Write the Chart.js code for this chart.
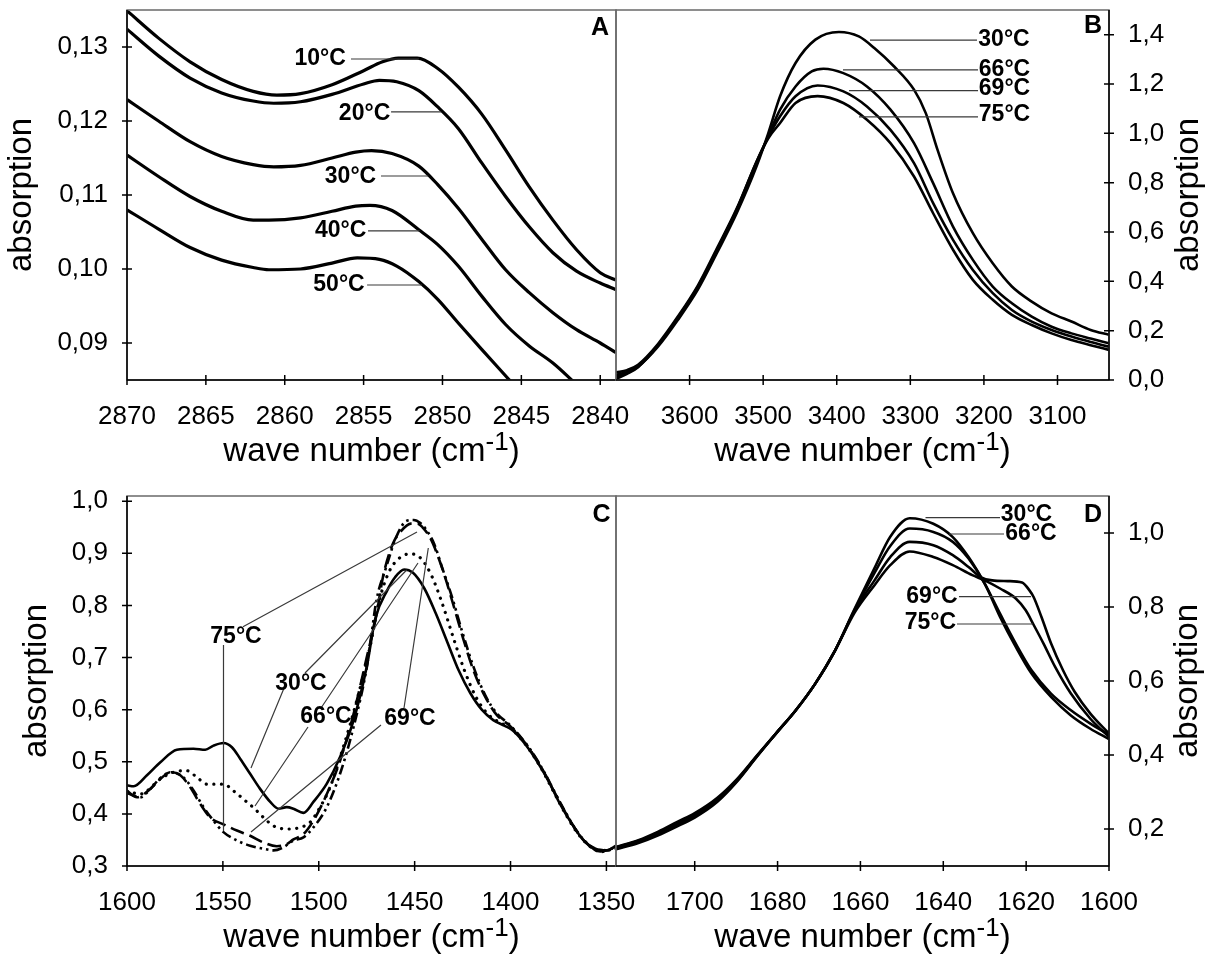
<!DOCTYPE html>
<html><head><meta charset="utf-8">
<script src="https://cdn.jsdelivr.net/npm/chart.js@4.4.1/dist/chart.umd.min.js"></script>
<style>
html,body{margin:0;padding:0;background:#fff;}
#wrap{position:relative;width:1215px;height:955px;overflow:hidden;background:#fff;}
canvas{position:absolute;left:0;top:0;width:1215px;height:955px;}
</style></head><body>
<div id="wrap">
<canvas id="cA" width="1215" height="955"></canvas>
<canvas id="cB" width="1215" height="955"></canvas>
<canvas id="cC" width="1215" height="955"></canvas>
<canvas id="cD" width="1215" height="955"></canvas>
</div>
<script>
// ---------------- Panel A (2870-2839 cm-1) ----------------
const aTickX = [2870, 2865, 2860, 2855, 2850, 2845, 2840];
const aTickY = [0.09, 0.10, 0.11, 0.12, 0.13];
const aX10 = [2870, 2868, 2866, 2864, 2862, 2860.5, 2859, 2857, 2855, 2853.8, 2852.8, 2851.6, 2850.3, 2849, 2847.5, 2846, 2844.5, 2843, 2841.5, 2840, 2839];
const aY10 = [0.1349, 0.1312, 0.1280, 0.1256, 0.1240, 0.1235, 0.1237, 0.1249, 0.1268, 0.1280, 0.1285, 0.1285, 0.1271, 0.1246, 0.1209, 0.1161, 0.1111, 0.1066, 0.1026, 0.0995, 0.0985];
const aX20 = [2870, 2868, 2866, 2864, 2862, 2860.7, 2859, 2857, 2855, 2854, 2852.9, 2851.5, 2850.3, 2849, 2847.5, 2846, 2844.5, 2843, 2841.5, 2840, 2839];
const aY20 = [0.1324, 0.1288, 0.1258, 0.1238, 0.1227, 0.1224, 0.1226, 0.1236, 0.1250, 0.1255, 0.1253, 0.1241, 0.1219, 0.1190, 0.1143, 0.1098, 0.1057, 0.1022, 0.0997, 0.0981, 0.0972];
const aX30 = [2870, 2868, 2866, 2864, 2862, 2860.7, 2859, 2857, 2855.5, 2854.5, 2853.2, 2851.5, 2850.3, 2849, 2847.5, 2846, 2844.5, 2843, 2841.5, 2840, 2839];
const aY30 = [0.1229, 0.1200, 0.1172, 0.1152, 0.1141, 0.1138, 0.1140, 0.1150, 0.1158, 0.1160, 0.1156, 0.1139, 0.1114, 0.1082, 0.1040, 0.0999, 0.0968, 0.0941, 0.0918, 0.0900, 0.0887];
const aX40 = [2870, 2868, 2866, 2864, 2862, 2861, 2859, 2857, 2855.5, 2854.6, 2853.2, 2851.5, 2850.3, 2849, 2847.5, 2846, 2844.5, 2843, 2841.5, 2840.5];
const aY40 = [0.1154, 0.1125, 0.1098, 0.1078, 0.1066, 0.1066, 0.1069, 0.1078, 0.1085, 0.1086, 0.1079, 0.1053, 0.1033, 0.1004, 0.0963, 0.0925, 0.0896, 0.0873, 0.0844, 0.0825];
const aX50 = [2870, 2868, 2866, 2864, 2862, 2861, 2859, 2857, 2855.4, 2854, 2852.9, 2851.5, 2850.3, 2849, 2847.5, 2845.8, 2845];
const aY50 = [0.1080, 0.1054, 0.1029, 0.1012, 0.1002, 0.0999, 0.1000, 0.1008, 0.1015, 0.1013, 0.1004, 0.0983, 0.0959, 0.0927, 0.0891, 0.0851, 0.0832];

// ---------------- Panel B (3700-3030 cm-1) ----------------
const bTickX = [3600, 3500, 3400, 3300, 3200, 3100];
const bTickY = [0.0, 0.2, 0.4, 0.6, 0.8, 1.0, 1.2, 1.4];
const bX30 = [3700, 3685, 3670, 3643, 3616, 3589, 3563, 3536, 3509, 3493, 3477, 3456, 3429, 3397, 3370, 3349, 3322, 3295, 3279, 3263, 3242, 3215, 3188, 3162, 3135, 3108, 3081, 3055, 3030];
const bY30 = [0.015, 0.03, 0.054, 0.135, 0.243, 0.365, 0.514, 0.676, 0.866, 1.001, 1.15, 1.285, 1.38, 1.411, 1.393, 1.346, 1.271, 1.177, 1.082, 0.933, 0.757, 0.595, 0.473, 0.379, 0.318, 0.27, 0.237, 0.203, 0.183];
const bX66 = [3700, 3685, 3670, 3643, 3616, 3589, 3563, 3536, 3509, 3493, 3477, 3456, 3434, 3418, 3391, 3359, 3327, 3295, 3269, 3242, 3215, 3188, 3162, 3135, 3108, 3081, 3055, 3030];
const bY66 = [0.02, 0.033, 0.058, 0.142, 0.252, 0.377, 0.528, 0.69, 0.88, 0.99, 1.096, 1.19, 1.251, 1.262, 1.244, 1.19, 1.096, 0.96, 0.798, 0.622, 0.487, 0.379, 0.311, 0.257, 0.216, 0.189, 0.168, 0.149];
const bX69 = [3700, 3685, 3670, 3643, 3616, 3589, 3563, 3536, 3509, 3493, 3477, 3456, 3426, 3391, 3359, 3327, 3295, 3269, 3242, 3215, 3188, 3162, 3135, 3108, 3081, 3055, 3030];
const bY69 = [0.03, 0.04, 0.062, 0.146, 0.257, 0.382, 0.533, 0.695, 0.885, 0.985, 1.069, 1.15, 1.194, 1.17, 1.109, 1.014, 0.879, 0.717, 0.568, 0.446, 0.352, 0.284, 0.237, 0.203, 0.176, 0.154, 0.135];
const bX75 = [3700, 3685, 3670, 3643, 3616, 3589, 3563, 3536, 3509, 3493, 3477, 3456, 3426, 3391, 3359, 3327, 3295, 3269, 3242, 3215, 3188, 3162, 3135, 3108, 3081, 3055, 3030];
const bY75 = [0.005, 0.025, 0.052, 0.14, 0.25, 0.375, 0.525, 0.69, 0.885, 0.98, 1.042, 1.123, 1.151, 1.123, 1.055, 0.96, 0.825, 0.676, 0.528, 0.406, 0.325, 0.264, 0.223, 0.189, 0.162, 0.141, 0.122];

// ---------------- Panel C (1600-1345 cm-1) ----------------
const cTickX = [1600, 1550, 1500, 1450, 1400, 1350];
const cTickY = [0.3, 0.4, 0.5, 0.6, 0.7, 0.8, 0.9, 1.0];
const cX30 = [1600, 1596.5, 1589.6, 1582.6, 1574, 1565.3, 1559.2, 1554.9, 1549.7, 1545.3, 1541, 1535.8, 1530.6, 1525.3, 1521, 1516.7, 1513.2, 1508, 1502.8, 1495.8, 1488.9, 1481.9, 1475, 1470.5, 1464.3, 1460.2, 1455.5, 1451, 1445, 1439, 1433, 1427, 1421, 1415, 1409, 1403, 1398.8, 1392.6, 1386.5, 1380.3, 1374.2, 1368, 1361.9, 1355.7, 1349.6, 1345];
const cY30 = [0.455, 0.453, 0.474, 0.499, 0.523, 0.525, 0.523, 0.531, 0.536, 0.528, 0.506, 0.477, 0.448, 0.423, 0.410, 0.413, 0.410, 0.402, 0.423, 0.458, 0.509, 0.579, 0.682, 0.775, 0.829, 0.854, 0.869, 0.863, 0.833, 0.785, 0.730, 0.675, 0.632, 0.600, 0.580, 0.569, 0.560, 0.535, 0.503, 0.464, 0.419, 0.381, 0.349, 0.333, 0.330, 0.339];
const cX66 = [1600, 1593, 1589.6, 1582.6, 1575.7, 1568.8, 1563.5, 1558.3, 1549.7, 1544.4, 1539.2, 1533.2, 1528.8, 1523.6, 1516.7, 1509.7, 1504.5, 1499.3, 1494.1, 1487.2, 1480.2, 1473.3, 1468.4, 1463.3, 1458.2, 1452.5, 1447.5, 1441.8, 1436, 1430, 1424, 1418, 1412, 1406, 1400.5, 1395, 1389, 1383, 1377, 1371, 1365, 1359, 1353, 1345];
const cY66 = [0.444, 0.438, 0.444, 0.467, 0.480, 0.483, 0.470, 0.457, 0.457, 0.444, 0.428, 0.409, 0.393, 0.377, 0.371, 0.374, 0.384, 0.413, 0.451, 0.528, 0.617, 0.720, 0.810, 0.865, 0.890, 0.899, 0.893, 0.862, 0.808, 0.740, 0.675, 0.624, 0.592, 0.576, 0.566, 0.546, 0.517, 0.481, 0.439, 0.398, 0.363, 0.339, 0.329, 0.336];
const cX69 = [1600, 1593, 1587.8, 1582.6, 1576.6, 1570.5, 1565.3, 1560.1, 1554.9, 1549.7, 1542.7, 1535.8, 1528.8, 1523.6, 1518.4, 1513.2, 1508, 1502.8, 1495.8, 1488.9, 1481.9, 1475, 1473.4, 1469.9, 1464.8, 1459.5, 1454.3, 1450.5, 1447, 1443.9, 1439.8, 1435.7, 1430.5, 1425.4, 1419.3, 1413.1, 1407, 1401, 1395, 1389, 1383, 1377, 1371, 1365, 1359, 1353, 1345];
const cY69 = [0.440, 0.432, 0.448, 0.469, 0.480, 0.470, 0.445, 0.413, 0.387, 0.365, 0.349, 0.339, 0.333, 0.330, 0.336, 0.349, 0.355, 0.374, 0.413, 0.477, 0.566, 0.680, 0.720, 0.810, 0.874, 0.932, 0.962, 0.964, 0.958, 0.945, 0.918, 0.873, 0.816, 0.752, 0.682, 0.627, 0.592, 0.573, 0.549, 0.520, 0.484, 0.442, 0.401, 0.365, 0.340, 0.327, 0.334];
const cX75 = [1600, 1594.8, 1587.8, 1582.6, 1577.4, 1572.2, 1567, 1561.8, 1556.6, 1549.7, 1542.7, 1535.8, 1528.8, 1521.9, 1516.7, 1513.2, 1508, 1502.8, 1495.8, 1488.9, 1481.9, 1475, 1469.8, 1466.5, 1461.3, 1457, 1452, 1448.5, 1445.9, 1441.8, 1437.7, 1433.6, 1429.5, 1424.4, 1419.3, 1413.1, 1407, 1401, 1395, 1389, 1383, 1377, 1371, 1365, 1359, 1353, 1345];
const cY75 = [0.444, 0.432, 0.448, 0.467, 0.480, 0.474, 0.451, 0.419, 0.393, 0.380, 0.368, 0.358, 0.345, 0.338, 0.342, 0.351, 0.361, 0.387, 0.438, 0.502, 0.591, 0.700, 0.784, 0.855, 0.919, 0.943, 0.957, 0.957, 0.950, 0.929, 0.893, 0.848, 0.797, 0.733, 0.675, 0.624, 0.589, 0.571, 0.548, 0.519, 0.483, 0.441, 0.400, 0.364, 0.339, 0.328, 0.335];

// ---------------- Panel D (1719-1600 cm-1) ----------------
const dTickX = [1700, 1680, 1660, 1640, 1620, 1600];
const dTickY = [0.2, 0.4, 0.6, 0.8, 1.0];
const dX30 = [1719, 1713.6, 1708.8, 1704.1, 1700, 1694.6, 1689.8, 1685.1, 1680.4, 1675.6, 1670.9, 1666.1, 1661.4, 1656.6, 1652.8, 1648.1, 1642.4, 1637.7, 1633.9, 1630, 1626.3, 1622.5, 1618.7, 1614, 1609.2, 1604.5, 1600];
const dY30 = [0.147, 0.165, 0.186, 0.212, 0.235, 0.276, 0.33, 0.395, 0.458, 0.521, 0.593, 0.683, 0.795, 0.905, 0.99, 1.040, 1.025, 0.989, 0.935, 0.863, 0.782, 0.701, 0.629, 0.566, 0.521, 0.485, 0.455];
const dX66 = [1719, 1713.6, 1708.8, 1704.1, 1700, 1694.6, 1689.8, 1685.1, 1680.4, 1675.6, 1670.9, 1666.1, 1661.4, 1656.6, 1652.8, 1648.1, 1642.4, 1637.7, 1633.9, 1630, 1626.3, 1622.5, 1618.7, 1614, 1609.2, 1604.5, 1600];
const dY66 = [0.145, 0.162, 0.183, 0.208, 0.231, 0.273, 0.328, 0.394, 0.458, 0.521, 0.593, 0.683, 0.792, 0.892, 0.965, 1.012, 1.003, 0.976, 0.931, 0.863, 0.773, 0.692, 0.620, 0.557, 0.507, 0.471, 0.443];
const dX69 = [1719, 1713.6, 1708.8, 1704.1, 1700, 1694.6, 1689.8, 1685.1, 1680.4, 1675.6, 1670.9, 1666.1, 1661.4, 1656.6, 1652.8, 1648.1, 1642.4, 1637.7, 1633.9, 1631, 1628.2, 1624.4, 1621, 1619.2, 1618.2, 1616.3, 1614, 1611.1, 1608.3, 1604.5, 1600];
const dY69 = [0.150, 0.168, 0.190, 0.216, 0.239, 0.280, 0.332, 0.396, 0.458, 0.521, 0.593, 0.683, 0.790, 0.872, 0.935, 0.976, 0.967, 0.940, 0.908, 0.881, 0.872, 0.870, 0.866, 0.845, 0.827, 0.773, 0.702, 0.629, 0.571, 0.512, 0.458];
const dX75 = [1719, 1713.6, 1708.8, 1704.1, 1700, 1694.6, 1689.8, 1685.1, 1680.4, 1675.6, 1670.9, 1666.1, 1661.4, 1656.6, 1652.8, 1648.1, 1642.4, 1637.7, 1633, 1630, 1626.3, 1622.5, 1620.1, 1618.2, 1615.8, 1613, 1609.2, 1604.5, 1600];
const dY75 = [0.152, 0.170, 0.193, 0.220, 0.243, 0.284, 0.335, 0.397, 0.458, 0.521, 0.593, 0.683, 0.785, 0.859, 0.913, 0.950, 0.935, 0.913, 0.886, 0.872, 0.850, 0.823, 0.791, 0.752, 0.701, 0.638, 0.566, 0.498, 0.449];

const yTitle = 'absorption';
const xTitleMain = 'wave number (cm', xTitleSup = '-1', xTitleEnd = ')';

const FONT = '"Liberation Sans", Arial, Helvetica, sans-serif';

const decor = {
  id: 'decor',
  afterDraw(chart, args, o) {
    const ctx = chart.ctx;
    const a = chart.chartArea;
    const xs = chart.scales.x, ys = chart.scales.y;
    const X = v => xs.getPixelForValue(v), Y = v => ys.getPixelForValue(v);
    ctx.save();
    // frame
    ctx.strokeStyle = '#6a6a6a'; ctx.lineWidth = 1.5;
    ctx.strokeRect(a.left, a.top, a.right - a.left, a.bottom - a.top);
    // axes + crossing ticks
    const ax = o.yPos === 'left' ? a.left : a.right;
    ctx.strokeStyle = '#000'; ctx.lineWidth = 1.5;
    ctx.beginPath();
    ctx.moveTo(a.left, a.bottom); ctx.lineTo(a.right, a.bottom);
    ctx.moveTo(ax, a.top); ctx.lineTo(ax, a.bottom);
    xs.ticks.forEach(t => { const p = X(t.value); ctx.moveTo(p, a.bottom - 5); ctx.lineTo(p, a.bottom + 5); });
    ys.ticks.forEach(t => { const p = Y(t.value); ctx.moveTo(ax - 5, p); ctx.lineTo(ax + 5, p); });
    ctx.stroke();
    // leader lines
    ctx.strokeStyle = '#3a3a3a'; ctx.lineWidth = 1.2;
    ctx.beginPath();
    o.leaders.forEach(l => { ctx.moveTo(X(l[0]), Y(l[1])); ctx.lineTo(X(l[2]), Y(l[3])); });
    ctx.stroke();
    // curve labels
    ctx.fillStyle = '#000';
    ctx.textAlign = 'center'; ctx.textBaseline = 'middle';
    ctx.font = 'bold 23px ' + FONT;
    o.labels.forEach(l => ctx.fillText(l.t, X(l.x), Y(l.y)));
    ctx.font = 'bold 25px ' + FONT;
    ctx.fillText(o.letter.t, X(o.letter.x), Y(o.letter.y));
    // y title (reads bottom to top on both sides)
    ctx.save();
    ctx.font = '33px ' + FONT;
    const tx = o.yPos === 'left' ? a.left - o.yTitleOff : a.right + o.yTitleOff;
    ctx.translate(tx, (a.top + a.bottom) / 2);
    ctx.rotate(-Math.PI / 2);
    ctx.fillText(yTitle, 0, 0);
    ctx.restore();
    // x title with superscript
    ctx.textAlign = 'left'; ctx.textBaseline = 'alphabetic';
    ctx.font = '33px ' + FONT;
    const w1 = ctx.measureText(xTitleMain).width, w3 = ctx.measureText(xTitleEnd).width;
    ctx.font = '26px ' + FONT;
    const w2 = ctx.measureText(xTitleSup).width;
    let sx = (a.left + a.right) / 2 - (w1 + w2 + w3) / 2;
    const by = a.bottom + 81;
    ctx.font = '33px ' + FONT; ctx.fillText(xTitleMain, sx, by); sx += w1;
    ctx.font = '26px ' + FONT; ctx.fillText(xTitleSup, sx, by - 11); sx += w2;
    ctx.font = '33px ' + FONT; ctx.fillText(xTitleEnd, sx, by);
    ctx.restore();
  }
};

function series(x, y, w, dash, cap) {
  return {
    data: x.map((v, i) => ({x: v, y: y[i]})),
    borderColor: '#000', borderWidth: w, borderDash: dash || [], borderCapStyle: cap || 'butt',
    pointRadius: 0, fill: false, cubicInterpolationMode: 'monotone', clip: 0
  };
}

function buildChart(id, p) {
  const W = 1215, H = 955, AXW = 100, AXH = 80;
  const left = p.yPos === 'left';
  const pad = {
    top: p.area.t,
    bottom: H - p.area.b - AXH,
    left: left ? p.area.l - AXW : p.area.l,
    right: left ? W - p.area.r : W - p.area.r - AXW
  };
  const zero = s => { s.paddingTop = 0; s.paddingBottom = 0; s.paddingLeft = 0; s.paddingRight = 0; };
  return new Chart(document.getElementById(id), {
    type: 'line',
    data: {datasets: p.datasets},
    options: {
      responsive: false, animation: false, devicePixelRatio: 1, events: [],
      layout: {padding: pad},
      plugins: {
        legend: {display: false}, tooltip: {enabled: false},
        decor: {yPos: p.yPos, yTitleOff: p.yTitleOff, labels: p.labels, leaders: p.leaders, letter: p.letter}
      },
      scales: {
        x: {
          type: 'linear', position: 'bottom', reverse: true, min: p.xMin, max: p.xMax,
          grid: {display: false, drawTicks: false}, border: {display: false},
          afterBuildTicks: s => { s.ticks = p.xTicks.map(v => ({value: v})); },
          afterFit: s => { s.height = AXH; zero(s); },
          ticks: {autoSkip: false, maxRotation: 0, minRotation: 0, padding: 21, color: '#000',
                  font: {family: FONT, size: 26}, callback: v => String(v)}
        },
        y: {
          type: 'linear', position: p.yPos, min: p.yMin, max: p.yMax,
          grid: {display: false, drawTicks: false}, border: {display: false},
          afterBuildTicks: s => { s.ticks = p.yTicks.map(v => ({value: v})); },
          afterFit: s => { s.width = AXW; zero(s); },
          ticks: {autoSkip: false, padding: 19, color: '#000',
                  font: {family: FONT, size: 26}, callback: v => Number(v).toFixed(p.dec).replace('.', ',')}
        }
      }
    },
    plugins: [decor]
  });
}

buildChart('cA', {
  area: {l: 127, t: 10, r: 616, b: 380}, yPos: 'left', yTitleOff: 105,
  xMin: 2839, xMax: 2870, yMin: 0.085, yMax: 0.135, xTicks: aTickX, yTicks: aTickY, dec: 2,
  datasets: [series(aX10, aY10, 3.2), series(aX20, aY20, 3.2), series(aX30, aY30, 3.2), series(aX40, aY40, 3.2), series(aX50, aY50, 3.2)],
  labels: [
    {t: '10°C', x: 2857.76, y: 0.12845}, {t: '20°C', x: 2854.94, y: 0.12101}, {t: '30°C', x: 2855.83, y: 0.1125},
    {t: '40°C', x: 2856.46, y: 0.10514}, {t: '50°C', x: 2856.56, y: 0.09784}
  ],
  leaders: [
    [2855.80, 0.12838, 2851.49, 0.12838], [2853.26, 0.12122, 2850.09, 0.12122], [2853.90, 0.11257, 2850.9, 0.11257],
    [2854.72, 0.10514, 2851.45, 0.10514], [2854.78, 0.09784, 2851.3, 0.09784]
  ],
  letter: {t: 'A', x: 2840.01, y: 0.1325}
});

buildChart('cB', {
  area: {l: 616, t: 10, r: 1109, b: 380}, yPos: 'right', yTitleOff: 80,
  xMin: 3030, xMax: 3700, yMin: 0, yMax: 1.5, xTicks: bTickX, yTicks: bTickY, dec: 1,
  datasets: [series(bX30, bY30, 2.6), series(bX66, bY66, 2.6), series(bX69, bY69, 2.6), series(bX75, bY75, 2.6)],
  labels: [
    {t: '30°C', x: 3172.7, y: 1.3784}, {t: '66°C', x: 3172.0, y: 1.2568},
    {t: '69°C', x: 3172.0, y: 1.1797}, {t: '75°C', x: 3172.0, y: 1.0743}
  ],
  leaders: [
    [3354.8, 1.378, 3209.4, 1.378], [3391.5, 1.257, 3208.0, 1.257],
    [3383.3, 1.173, 3208.0, 1.173], [3369.8, 1.067, 3208.0, 1.067]
  ],
  letter: {t: 'B', x: 3051.75, y: 1.4331}
});

buildChart('cC', {
  area: {l: 127, t: 496, r: 616, b: 866}, yPos: 'left', yTitleOff: 90,
  xMin: 1345, xMax: 1600, yMin: 0.3, yMax: 1.01, xTicks: cTickX, yTicks: cTickY, dec: 1,
  datasets: [
    series(cX30, cY30, 2.6),
    series(cX66, cY66, 3.2, [0.1, 7.5], 'round'),
    series(cX69, cY69, 2.6, [10, 4, 2.5, 4, 2.5, 4]),
    series(cX75, cY75, 2.6, [14, 6])
  ],
  labels: [
    {t: '75°C', x: 1543.16, y: 0.7394}, {t: '30°C', x: 1509.26, y: 0.6492},
    {t: '66°C', x: 1496.23, y: 0.5859}, {t: '69°C', x: 1452.42, y: 0.5821}
  ],
  leaders: [
    [1539.51, 0.7592, 1448.77, 0.9409], [1549.68, 0.7241, 1549.68, 0.3672],
    [1535.34, 0.4881, 1517.82, 0.6441], [1507.18, 0.6704, 1454.14, 0.868],
    [1533.25, 0.4151, 1505.61, 0.5667], [1498.83, 0.6032, 1448.25, 0.8814],
    [1467.55, 0.5706, 1535.34, 0.3652], [1455.55, 0.6032, 1442.88, 0.9102]
  ],
  letter: {t: 'C', x: 1352.56, y: 0.9735}
});

buildChart('cD', {
  area: {l: 616, t: 496, r: 1109, b: 866}, yPos: 'right', yTitleOff: 79,
  xMin: 1600, xMax: 1719, yMin: 0.1, yMax: 1.1, xTicks: dTickX, yTicks: dTickY, dec: 1,
  datasets: [series(dX30, dY30, 2.6), series(dX66, dY66, 2.6), series(dX69, dY69, 2.6), series(dX75, dY75, 2.6)],
  labels: [
    {t: '30°C', x: 1619.91, y: 1.0486}, {t: '66°C', x: 1618.83, y: 0.9973},
    {t: '69°C', x: 1642.72, y: 0.8284}, {t: '75°C', x: 1643.09, y: 0.7568}
  ],
  leaders: [
    [1644.29, 1.0414, 1626.31, 1.0414], [1638.62, 0.9973, 1625.34, 0.9973],
    [1636.21, 0.8278, 1618.83, 0.8278], [1636.69, 0.754, 1618.34, 0.754]
  ],
  letter: {t: 'D', x: 1603.86, y: 1.0486}
});
</script>
</body></html>
